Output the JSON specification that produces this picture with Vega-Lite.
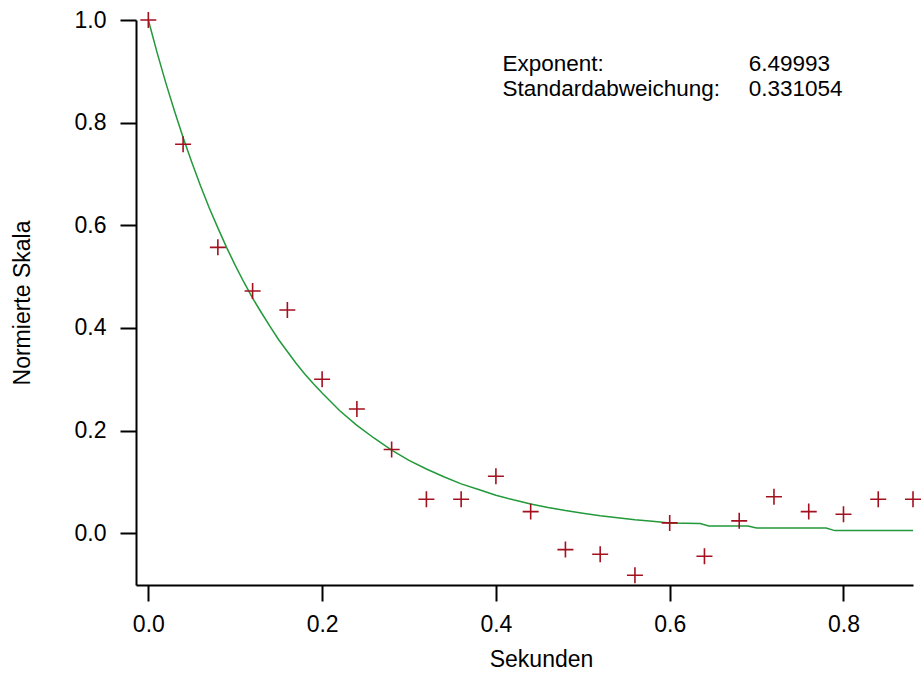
{
  "$schema": "https://vega.github.io/schema/vega-lite/v6.json",
  "width": 777,
  "height": 565,
  "autosize": "none",
  "padding": {"left": 136, "top": 20, "right": 8, "bottom": 90},
  "background": "white",
  "config": {
    "view": {"stroke": null},
    "font": "Liberation Sans",
    "axis": {
      "grid": false,
      "domainColor": "black",
      "domainWidth": 2,
      "tickColor": "black",
      "tickWidth": 2,
      "tickSize": 16,
      "labelFont": "Liberation Sans",
      "labelFontSize": 23,
      "labelColor": "black",
      "titleFont": "Liberation Sans",
      "titleFontSize": 23,
      "titleFontWeight": "normal",
      "titleColor": "black"
    }
  },
  "datasets": {
    "points": [
      {"t": 0.00, "v": 1.000},
      {"t": 0.04, "v": 0.758},
      {"t": 0.08, "v": 0.557},
      {"t": 0.12, "v": 0.472},
      {"t": 0.16, "v": 0.435},
      {"t": 0.20, "v": 0.300},
      {"t": 0.24, "v": 0.242},
      {"t": 0.28, "v": 0.163},
      {"t": 0.32, "v": 0.066},
      {"t": 0.36, "v": 0.066},
      {"t": 0.40, "v": 0.111},
      {"t": 0.44, "v": 0.042},
      {"t": 0.48, "v": -0.032},
      {"t": 0.52, "v": -0.041},
      {"t": 0.56, "v": -0.082},
      {"t": 0.60, "v": 0.020},
      {"t": 0.64, "v": -0.045},
      {"t": 0.68, "v": 0.024},
      {"t": 0.72, "v": 0.071},
      {"t": 0.76, "v": 0.042},
      {"t": 0.80, "v": 0.037},
      {"t": 0.84, "v": 0.066},
      {"t": 0.88, "v": 0.066}
    ],
    "curve": [
      {"t": 0.00, "v": 1.0},
      {"t": 0.01, "v": 0.937},
      {"t": 0.02, "v": 0.878},
      {"t": 0.03, "v": 0.823},
      {"t": 0.04, "v": 0.771},
      {"t": 0.05, "v": 0.723},
      {"t": 0.06, "v": 0.677},
      {"t": 0.07, "v": 0.634},
      {"t": 0.08, "v": 0.595},
      {"t": 0.09, "v": 0.557},
      {"t": 0.10, "v": 0.522},
      {"t": 0.11, "v": 0.489},
      {"t": 0.12, "v": 0.458},
      {"t": 0.13, "v": 0.430},
      {"t": 0.14, "v": 0.403},
      {"t": 0.15, "v": 0.377},
      {"t": 0.16, "v": 0.354},
      {"t": 0.17, "v": 0.331},
      {"t": 0.18, "v": 0.310},
      {"t": 0.19, "v": 0.291},
      {"t": 0.20, "v": 0.273},
      {"t": 0.22, "v": 0.239},
      {"t": 0.24, "v": 0.210},
      {"t": 0.26, "v": 0.185},
      {"t": 0.28, "v": 0.162},
      {"t": 0.30, "v": 0.142},
      {"t": 0.32, "v": 0.125},
      {"t": 0.34, "v": 0.110},
      {"t": 0.36, "v": 0.096},
      {"t": 0.38, "v": 0.085},
      {"t": 0.40, "v": 0.074},
      {"t": 0.42, "v": 0.065},
      {"t": 0.44, "v": 0.057},
      {"t": 0.46, "v": 0.050},
      {"t": 0.48, "v": 0.044},
      {"t": 0.50, "v": 0.039},
      {"t": 0.52, "v": 0.034},
      {"t": 0.54, "v": 0.030},
      {"t": 0.56, "v": 0.026},
      {"t": 0.58, "v": 0.023},
      {"t": 0.60, "v": 0.020},
      {"t": 0.635, "v": 0.019},
      {"t": 0.645, "v": 0.014},
      {"t": 0.69, "v": 0.014},
      {"t": 0.70, "v": 0.010},
      {"t": 0.78, "v": 0.010},
      {"t": 0.79, "v": 0.005},
      {"t": 0.88, "v": 0.005}
    ],
    "notes": [
      {"t": 0.4075, "v": 0.901, "text": "Exponent:"},
      {"t": 0.691, "v": 0.901, "text": "6.49993"},
      {"t": 0.4075, "v": 0.852, "text": "Standardabweichung:"},
      {"t": 0.691, "v": 0.852, "text": "0.331054"}
    ]
  },
  "layer": [
    {
      "data": {"name": "curve"},
      "mark": {"type": "line", "stroke": "#22993a", "strokeWidth": 1.5, "clip": false},
      "encoding": {
        "x": {
          "field": "t", "type": "quantitative",
          "scale": {"domain": [-0.0142, 0.88], "nice": false, "zero": false},
          "axis": {
            "values": [0, 0.2, 0.4, 0.6, 0.8], "format": ".1f",
            "title": "Sekunden", "labelPadding": 12, "titlePadding": 12, "titleX": 405
          }
        },
        "y": {
          "field": "v", "type": "quantitative",
          "scale": {"domain": [-0.101, 1.0], "nice": false, "zero": false},
          "axis": {
            "values": [0, 0.2, 0.4, 0.6, 0.8, 1.0], "format": ".1f",
            "title": "Normierte Skala", "labelPadding": 14, "titlePadding": 40
          }
        }
      }
    },
    {
      "data": {"name": "points"},
      "mark": {
        "type": "point",
        "shape": "M-1,0L1,0M0,-1L0,1",
        "size": 256,
        "filled": false,
        "stroke": "#a3111f",
        "strokeWidth": 1.6,
        "opacity": 1,
        "clip": false
      },
      "encoding": {
        "x": {"field": "t", "type": "quantitative"},
        "y": {"field": "v", "type": "quantitative"}
      }
    },
    {
      "data": {"name": "notes"},
      "mark": {
        "type": "text",
        "align": "left",
        "baseline": "alphabetic",
        "font": "Liberation Sans",
        "fontSize": 22.5,
        "color": "black"
      },
      "encoding": {
        "x": {"field": "t", "type": "quantitative"},
        "y": {"field": "v", "type": "quantitative"},
        "text": {"field": "text"}
      }
    }
  ]
}
